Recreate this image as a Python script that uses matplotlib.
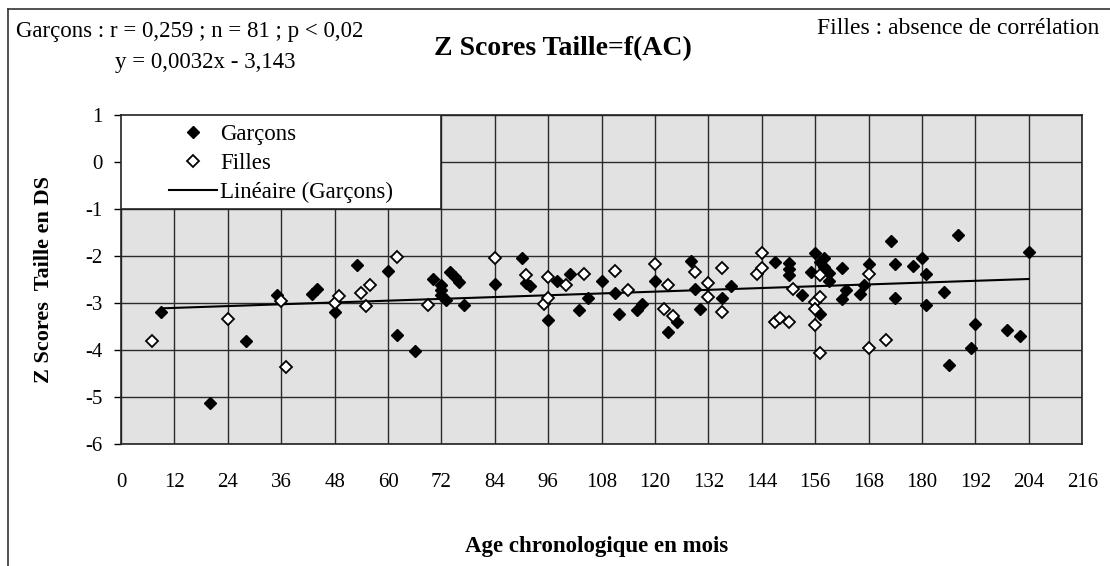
import numpy as np
import matplotlib
matplotlib.use("Agg")
import matplotlib.pyplot as plt
from matplotlib.lines import Line2D
from matplotlib.patches import Rectangle

plt.rcParams['font.family'] = ['Liberation Serif', 'DejaVu Serif']
plt.rcParams['axes.unicode_minus'] = False

# boys (Garçons): age in months, height Z score
boys_age = [9, 20, 28, 35, 43, 44, 48, 53, 60, 62, 66, 70, 72, 72, 72, 73, 74, 75, 76, 77,
            84, 90, 91, 92, 96, 98, 101, 103, 105, 108, 111, 112, 116, 117, 120, 123, 125,
            128, 129, 130, 135, 137, 147, 150, 150, 150, 153, 155, 156, 157, 158, 158, 159,
            159, 157, 162, 163, 162, 166, 167, 168, 173, 174, 174, 178, 180, 181, 181, 185,
            186, 188, 191, 192, 199, 202, 204]
boys_z = [-3.2, -5.12, -3.81, -2.82, -2.80, -2.70, -3.19, -2.19, -2.32, -3.69, -4.03, -2.50,
          -2.62, -2.72, -2.82, -2.93, -2.35, -2.45, -2.55, -3.05, -2.59, -2.05, -2.58, -2.64,
          -3.36, -2.54, -2.38, -3.14, -2.89, -2.54, -2.78, -3.23, -3.16, -3.03, -2.54, -3.62,
          -3.41, -2.11, -2.70, -3.12, -2.90, -2.63, -2.12, -2.16, -2.28, -2.40, -2.84, -2.35,
          -1.94, -2.12, -2.05, -2.23, -2.37, -2.53, -3.23, -2.25, -2.72, -2.92, -2.80, -2.62,
          -2.18, -1.68, -2.17, -2.90, -2.21, -2.04, -2.38, -3.05, -2.77, -4.32, -1.56, -3.96,
          -3.45, -3.58, -3.70, -1.91]

# girls (Filles)
girls_age = [7, 24, 36, 37, 48, 49, 54, 55, 56, 62, 69, 84, 91, 95, 96, 96, 100, 104, 111,
             114, 120, 122, 123, 124, 129, 132, 132, 135, 135, 143, 144, 144, 147, 148, 150,
             151, 156, 156, 156, 157, 157, 157, 168, 168, 172]
girls_z = [-3.81, -3.35, -2.95, -4.37, -2.99, -2.85, -2.79, -3.06, -2.62, -2.03, -3.05, -2.05,
           -2.41, -3.02, -2.44, -2.90, -2.61, -2.38, -2.33, -2.73, -2.18, -3.12, -2.61, -3.28,
           -2.34, -2.57, -2.88, -2.25, -3.20, -2.39, -1.94, -2.25, -3.40, -3.31, -3.40, -2.70,
           -2.97, -3.13, -3.47, -2.88, -2.40, -4.06, -2.39, -3.95, -3.79]

# trend line given on the chart
slope = 0.0032
intercept = -3.143

x_ticks = list(range(0, 217, 12))
y_ticks = list(range(-6, 2))

fig = plt.figure(figsize=(11.1, 5.66), dpi=100)
ax = fig.add_axes([0.109, 0.2155, 0.866, 0.5815])
ax.set_facecolor('#e2e2e2')

ax.set_xlim(0, 216)
ax.set_ylim(-6, 1)
ax.set_xticks(x_ticks)
ax.set_yticks(y_ticks)
ax.grid(True, color='#2a2a2a', linewidth=1.0)
ax.set_axisbelow(True)
for s in ax.spines.values():
    s.set_color('#222222')
    s.set_linewidth(1.2)
ax.tick_params(axis='x', length=0, pad=21, labelsize=15)
ax.tick_params(axis='y', length=5, width=1, direction='out', pad=8, labelsize=15)

tx = np.array([min(boys_age), max(boys_age)])
ax.plot(tx, slope * tx + intercept, color='black', lw=1.5, zorder=3,
        label='Linéaire (Garçons)')
ax.plot(boys_age, boys_z, 'D', color='black', ms=6.4, zorder=4, label='Garçons')
ax.plot(girls_age, girls_z, 'D', mfc='white', mec='black', mew=1.3, ms=6.2, zorder=4,
        label='Filles')

# white legend box
ax.add_patch(Rectangle((0, -1), 72, 2, facecolor='white', edgecolor='#222222', lw=1.2,
                       zorder=5))
h, l = ax.get_legend_handles_labels()
leg = ax.legend([h[1], h[2], h[0]], [l[1], l[2], l[0]], loc='upper left',
                bbox_to_anchor=(0.045, 0.985), frameon=False, fontsize=16.5,
                handlelength=2.1, handletextpad=0.13, labelspacing=0.33, borderpad=0.2,
                borderaxespad=0)
leg.set_zorder(6)

ax.set_xlabel('Age chronologique en mois', fontsize=16.5, fontweight='bold', va='center')
ax.xaxis.set_label_coords(0.495, -0.31)
ax.set_ylabel('Z Scores  Taille en DS', fontsize=16, fontweight='bold', va='center')
ax.yaxis.set_label_coords(-0.08, 0.5)

fig.text(0.014, 0.945, 'Garçons : r = 0,259 ; n = 81 ; p < 0,02', fontsize=16.5, va='center')
fig.text(0.104, 0.889, 'y = 0,0032x - 3,143', fontsize=16.5, va='center')
fig.text(0.507, 0.915, 'Z Scores Taille=f(AC)', fontsize=20, fontweight='bold',
         ha='center', va='center')
fig.text(0.99, 0.95, 'Filles : absence de corrélation', fontsize=17, ha='right', va='center')

# chart border (top and left visible)
fig.add_artist(Line2D([0.0072, 1.0], [0.984, 0.984], color='#333333', lw=1.2))
fig.add_artist(Line2D([0.0072, 0.0072], [0.0, 0.984], color='#333333', lw=1.2))

fig.savefig('out.png', dpi=100)
